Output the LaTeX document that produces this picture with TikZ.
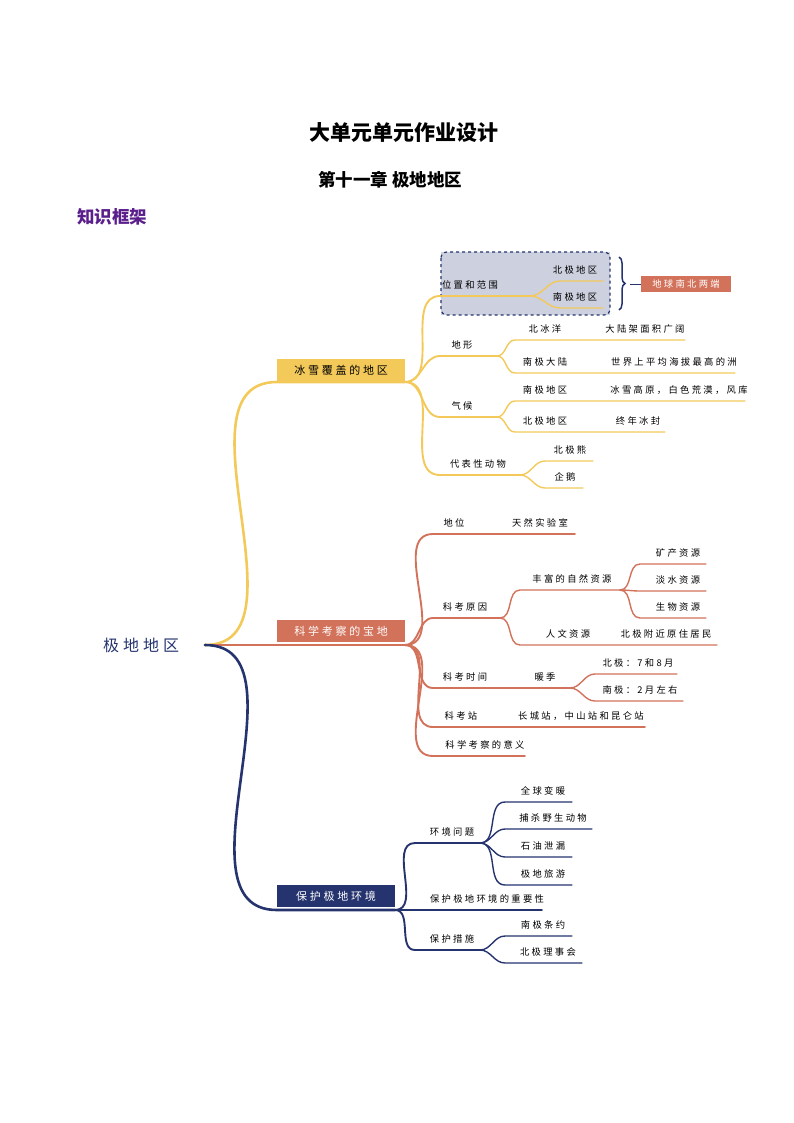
\documentclass[tikz,border=0pt]{standalone}
\usepackage{fontspec}
\setmainfont{Noto Sans CJK SC}
\newfontfamily\spaced[LetterSpace=25]{Noto Sans CJK SC}
\usetikzlibrary{decorations.pathreplacing}

\definecolor{snowy}{HTML}{F3C95A}
\definecolor{rusty}{HTML}{D2725B}
\definecolor{navy}{HTML}{25346F}
\definecolor{haze}{HTML}{CDD0DE}
\definecolor{grape}{HTML}{5B1F8C}

\tikzset{
  lbl/.style={font=\spaced\fontsize{9.3}{11}\selectfont, inner sep=0pt},
  mainbox/.style={font=\spaced\fontsize{11}{13}\selectfont, minimum height=22pt, inner sep=2pt},
  thick1/.style={line width=2.6pt, line cap=round},
  thick2/.style={line width=1.9pt, line cap=round},
  thick3/.style={line width=1.4pt, line cap=round}
}

% color/style, parent, name, line start x, line end x, line y, text, text x
\newcommand{\twig}[8]{%
  \coordinate (#3) at (#5,#6);
  \node[lbl] (#3-t) at (#8,#6-11) {#7};
  \draw[#1] (#2) to[out=0,in=180] (#4,#6) -- (#3);}

\begin{document}
\begin{tikzpicture}[x=1pt,y=-1pt]
  \useasboundingbox (0,0) rectangle (794,1123);

  % titles
  \node[font=\fontsize{21}{24}\selectfont\bfseries] (title) at (404,133) {大单元单元作业设计};
  \node[font=\fontsize{17.5}{20}\selectfont\bfseries] (chap) at (390,180) {第十一章 极地地区};
  \node[font=\fontsize{17.5}{20}\selectfont\bfseries, text=grape] (frame) at (112,217) {知识框架};

  % root
  \node[font=\spaced\fontsize{16}{19}\selectfont, text=navy] (root-t) at (141,645) {极地地区};
  \coordinate (root) at (205,645);

  % ice branch
  \fill[haze] (441,252) rectangle (610,315);
  \draw[navy, line width=1.2pt, dashed, rounded corners=6pt] (441,252) rectangle (610,315);
  \twig{snowy, thick1}{root}{ice}{277}{405}{382}{}{340}
  \node[mainbox, fill=snowy, minimum width=128pt] (ice-t) at (341,370) {冰雪覆盖的地区};

  \twig{snowy, thick2}{ice}{pos}{440}{530}{296}{位置和范围}{470}
  \twig{snowy, thick3}{pos}{pos-n}{560}{603}{281}{北极地区}{575}
  \twig{snowy, thick3}{pos}{pos-s}{560}{603}{308}{南极地区}{575}
  \draw[navy, line width=1.5pt, decorate, decoration={brace, amplitude=6pt}] (619,257) -- (619,310);
  \node[lbl, fill=rusty, text=white, minimum width=90pt, minimum height=16pt] (ends) at (686,284) {地球南北两端};
  \draw[navy, line width=0.8pt] (630,284) -- (ends);

  \twig{snowy, thick2}{ice}{land}{440}{497}{356}{地形}{462}
  \twig{snowy, thick3}{land}{land-n}{515}{685}{340}{北冰洋}{545}
  \node[lbl] (land-n2) at (645,329) {大陆架面积广阔};
  \twig{snowy, thick3}{land}{land-s}{515}{735}{373}{南极大陆}{545}
  \node[lbl] (land-s2) at (674,362) {世界上平均海拔最高的洲};

  \twig{snowy, thick2}{ice}{clim}{440}{497}{417}{气候}{462}
  \twig{snowy, thick3}{clim}{clim-s}{515}{745}{401}{南极地区}{545}
  \node[lbl] (clim-s2) at (679,390) {冰雪高原，白色荒漠，风库};
  \twig{snowy, thick3}{clim}{clim-n}{515}{665}{432}{北极地区}{545}
  \node[lbl] (clim-n2) at (638,421) {终年冰封};

  \twig{snowy, thick2}{ice}{ani}{440}{520}{475}{代表性动物}{478}
  \twig{snowy, thick3}{ani}{ani-b}{545}{593}{461}{北极熊}{570}
  \twig{snowy, thick3}{ani}{ani-p}{545}{583}{488}{企鹅}{565}

  % science branch
  \twig{rusty, thick1}{root}{sci}{277}{405}{645}{}{340}
  \node[mainbox, fill=rusty, text=white, minimum width=128pt] (sci-t) at (341,631) {科学考察的宝地};

  \twig{rusty, thick2}{sci}{rank}{433}{575}{534}{地位}{454}
  \node[lbl] (rank2) at (540,523) {天然实验室};

  \twig{rusty, thick2}{sci}{why}{433}{500}{618}{科考原因}{465}
  \twig{rusty, thick3}{why}{nat}{520}{620}{590}{丰富的自然资源}{572}
  \twig{rusty, thick3}{nat}{nat-a}{640}{706}{564}{矿产资源}{678}
  \twig{rusty, thick3}{nat}{nat-b}{640}{706}{591}{淡水资源}{678}
  \twig{rusty, thick3}{nat}{nat-c}{640}{706}{618}{生物资源}{678}
  \twig{rusty, thick3}{why}{hum}{520}{717}{645}{人文资源}{568}
  \node[lbl] (hum2) at (666,634) {北极附近原住居民};

  \twig{rusty, thick2}{sci}{when}{433}{570}{688}{科考时间}{465}
  \node[lbl] (when2) at (545,677) {暖季};
  \twig{rusty, thick3}{when}{when-n}{595}{677}{674}{北极：7和8月}{638}
  \twig{rusty, thick3}{when}{when-s}{595}{683}{701}{南极：2月左右}{640}

  \twig{rusty, thick2}{sci}{stn}{433}{645}{727}{科考站}{461}
  \node[lbl] (stn2) at (581,716) {长城站，中山站和昆仑站};

  \twig{rusty, thick2}{sci}{mean}{433}{525}{756}{科学考察的意义}{485}

  % protection branch
  \twig{navy, thick1}{root}{env}{277}{395}{910}{}{340}
  \node[mainbox, fill=navy, text=white, minimum width=118pt] (env-t) at (336,896) {保护极地环境};

  \twig{navy, thick2}{env}{prob}{415}{480}{843}{环境问题}{452}
  \twig{navy, thick3}{prob}{prob-a}{505}{572}{802}{全球变暖}{543}
  \twig{navy, thick3}{prob}{prob-b}{505}{592}{829}{捕杀野生动物}{553}
  \twig{navy, thick3}{prob}{prob-c}{505}{572}{857}{石油泄漏}{543}
  \twig{navy, thick3}{prob}{prob-d}{505}{572}{885}{极地旅游}{543}

  \twig{navy, thick2}{env}{imp}{415}{542}{910}{保护极地环境的重要性}{487}

  \twig{navy, thick2}{env}{act}{415}{480}{950}{保护措施}{452}
  \twig{navy, thick3}{act}{act-a}{505}{572}{936}{南极条约}{543}
  \twig{navy, thick3}{act}{act-b}{505}{582}{963}{北极理事会}{548}
\end{tikzpicture}
\end{document}
